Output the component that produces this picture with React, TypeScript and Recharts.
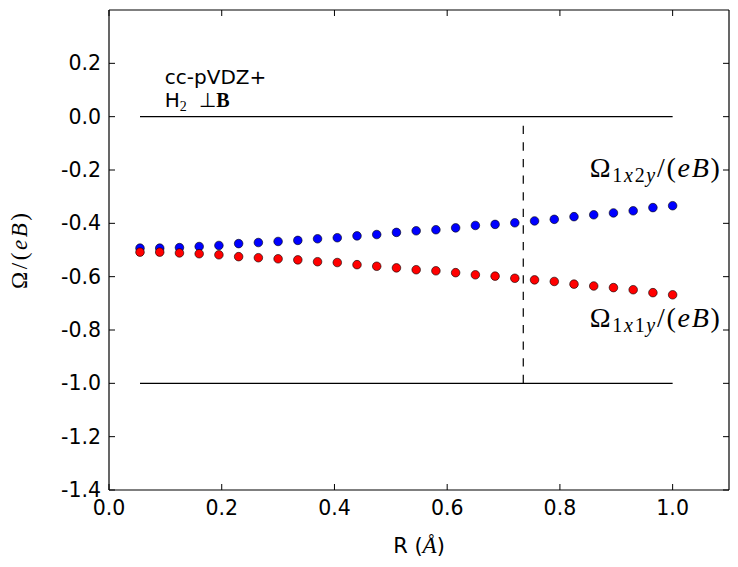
import {
  ReferenceDot,
  ReferenceLine,
  Scatter,
  ScatterChart,
  XAxis,
  YAxis,
} from "recharts";

// bond length R in Angstrom
const R_VALUES = [
  0.055, 0.09, 0.125, 0.16, 0.195, 0.23, 0.265, 0.3, 0.335, 0.37, 0.405, 0.44,
  0.475, 0.51, 0.545, 0.58, 0.615, 0.65, 0.685, 0.72, 0.755, 0.79, 0.825, 0.86,
  0.895, 0.93, 0.965, 1.0,
];
// Omega_1x2y / (eB), blue
const OMEGA_1X2Y = [
  -0.493, -0.493, -0.491, -0.487, -0.483, -0.476, -0.472, -0.468, -0.464,
  -0.458, -0.454, -0.447, -0.442, -0.434, -0.428, -0.424, -0.417, -0.408,
  -0.404, -0.398, -0.391, -0.385, -0.375, -0.368, -0.361, -0.353, -0.341,
  -0.334,
];
// Omega_1x1y / (eB), red
const OMEGA_1X1Y = [
  -0.508, -0.508, -0.511, -0.514, -0.518, -0.525, -0.529, -0.533, -0.537,
  -0.544, -0.547, -0.555, -0.561, -0.567, -0.574, -0.578, -0.585, -0.593,
  -0.598, -0.606, -0.612, -0.618, -0.628, -0.635, -0.641, -0.649, -0.66,
  -0.668,
];

const X_TICKS = [0, 0.2, 0.4, 0.6, 0.8, 1.0];
const Y_TICKS = [-1.4, -1.2, -1.0, -0.8, -0.6, -0.4, -0.2, 0, 0.2];
const X_DOMAIN = [0, 1.1];
const Y_DOMAIN = [-1.4, 0.4];

// horizontal guide lines and the vertical marker
const H_LEVELS = [0, -1];
const H_START = 0.055;
const H_END = 1.0;
const R_EQ = 0.735;
const R_EQ_TOP = -0.034;

const SANS = "'DejaVu Sans', sans-serif";
const SERIF = "'Liberation Serif', 'DejaVu Serif', serif";
const TICK_LEN = 6;

const fmt = (v: number) => v.toFixed(1);

const blueData = R_VALUES.map((r, i) => ({ r, w: OMEGA_1X2Y[i] }));
const redData = R_VALUES.map((r, i) => ({ r, w: OMEGA_1X1Y[i] }));

const BottomTick = ({ x, y, payload }: any) => (
  <g>
    <line x1={x} x2={x} y1={y} y2={y - TICK_LEN} stroke="#000" />
    <text x={x} y={y + 25} textAnchor="middle" fontFamily={SANS} fontSize={20.5} fill="#000">
      {fmt(payload.value)}
    </text>
  </g>
);

const TopTick = ({ x, y }: any) => (
  <line x1={x} x2={x} y1={y} y2={y + TICK_LEN} stroke="#000" />
);

const LeftTick = ({ x, y, payload }: any) => (
  <g>
    <line x1={x} x2={x + TICK_LEN} y1={y} y2={y} stroke="#000" />
    <text x={x - 8} y={y + 7} textAnchor="end" fontFamily={SANS} fontSize={20.5} fill="#000">
      {fmt(payload.value)}
    </text>
  </g>
);

const RightTick = ({ x, y }: any) => (
  <line x1={x} x2={x - TICK_LEN} y1={y} y2={y} stroke="#000" />
);

const Dot = (color: string) => (props: any) => (
  <circle cx={props.cx} cy={props.cy} r={4.3} fill={color} stroke="#000" strokeWidth={0.6} />
);

const XLabel = ({ viewBox }: any) => (
  <text
    x={viewBox.x + viewBox.width / 2}
    y={viewBox.y + 63}
    textAnchor="middle"
    fontFamily={SANS}
    fontSize={21}
    fill="#000"
  >
    R (<tspan fontFamily={SERIF} fontStyle="italic" fontSize={23}>Å</tspan>)
  </text>
);

const YLabel = ({ viewBox }: any) => {
  const cx = 27;
  const cy = viewBox.y + viewBox.height / 2 + 1;
  return (
    <text
      x={cx}
      y={cy}
      transform={`rotate(-90, ${cx}, ${cy})`}
      textAnchor="middle"
      fontFamily={SERIF}
      fontSize={23}
      textLength={76}
      lengthAdjust="spacing"
      fill="#000"
    >
      Ω/(<tspan fontStyle="italic">eB</tspan>)
    </text>
  );
};

const BasisNote = ({ cx, cy }: any) => (
  <g>
    <text x={cx} y={cy - 23} fontFamily={SANS} fontSize={20} fill="#000">
      cc-pVDZ+
    </text>
    <text x={cx} y={cy} fontFamily={SANS} fontSize={20} fill="#000">
      H
      <tspan fontFamily={SERIF} fontSize={14} dy={4}>2</tspan>
      <tspan dy={-4} dx={12}>⊥</tspan>
      <tspan fontFamily={SERIF} fontWeight="bold">B</tspan>
    </text>
  </g>
);

const OmegaNote = (sub: [string, string, string, string]) => ({ cx, cy }: any) => (
  <text
    x={cx}
    y={cy}
    fontFamily={SERIF}
    fontSize={28}
    textLength={130}
    lengthAdjust="spacing"
    fill="#000"
  >
    Ω
    <tspan fontSize={20} dy={5}>{sub[0]}</tspan>
    <tspan fontSize={20} fontStyle="italic">{sub[1]}</tspan>
    <tspan fontSize={20}>{sub[2]}</tspan>
    <tspan fontSize={20} fontStyle="italic">{sub[3]}</tspan>
    <tspan dy={-5}>/(</tspan>
    <tspan fontStyle="italic">eB</tspan>)
  </text>
);

const App = () => {
  return (
    <div style={{ position: "absolute", left: 0, top: 0, width: 738, height: 567, background: "#fff" }}>
      <ScatterChart width={738} height={567} margin={{ top: 9, right: 8, bottom: 0, left: 0 }}>
        <XAxis
          type="number"
          dataKey="r"
          domain={X_DOMAIN}
          ticks={X_TICKS}
          interval={0}
          height={77}
          tickSize={0}
          tickMargin={0}
          tick={<BottomTick />}
          axisLine={{ stroke: "#000", strokeWidth: 1.2 }}
          allowDataOverflow
          label={<XLabel />}
        />
        <XAxis
          xAxisId="top"
          orientation="top"
          type="number"
          dataKey="r"
          domain={X_DOMAIN}
          ticks={X_TICKS}
          interval={0}
          height={1}
          tickSize={0}
          tickMargin={0}
          tick={<TopTick />}
          axisLine={{ stroke: "#000", strokeWidth: 1.2 }}
          allowDataOverflow
        />
        <YAxis
          type="number"
          dataKey="w"
          domain={Y_DOMAIN}
          ticks={Y_TICKS}
          interval={0}
          width={109}
          tickSize={0}
          tickMargin={0}
          tick={<LeftTick />}
          axisLine={{ stroke: "#000", strokeWidth: 1.2 }}
          allowDataOverflow
          label={<YLabel />}
        />
        <YAxis
          yAxisId="right"
          orientation="right"
          type="number"
          dataKey="w"
          domain={Y_DOMAIN}
          ticks={Y_TICKS}
          interval={0}
          width={1}
          tickSize={0}
          tickMargin={0}
          tick={<RightTick />}
          axisLine={{ stroke: "#000", strokeWidth: 1.2 }}
          allowDataOverflow
        />
        {H_LEVELS.map((lvl) => (
          <ReferenceLine
            key={lvl}
            segment={[
              { x: H_START, y: lvl },
              { x: H_END, y: lvl },
            ]}
            stroke="#000"
            strokeWidth={1.2}
          />
        ))}
        <ReferenceLine
          segment={[
            { x: R_EQ, y: R_EQ_TOP },
            { x: R_EQ, y: -1 },
          ]}
          stroke="#000"
          strokeWidth={1.2}
          strokeDasharray="8.3 8.3"
        />
        <Scatter data={blueData} shape={Dot("#0000ff")} isAnimationActive={false} />
        <Scatter data={redData} shape={Dot("#ff0000")} isAnimationActive={false} />
        <ReferenceDot x={0.099} y={0.035} r={0} shape={BasisNote} />
        <ReferenceDot x={0.853} y={-0.227} r={0} shape={OmegaNote(["1", "x", "2", "y"])} ifOverflow="visible" />
        <ReferenceDot x={0.853} y={-0.789} r={0} shape={OmegaNote(["1", "x", "1", "y"])} ifOverflow="visible" />
      </ScatterChart>
    </div>
  );
};

export default App;
